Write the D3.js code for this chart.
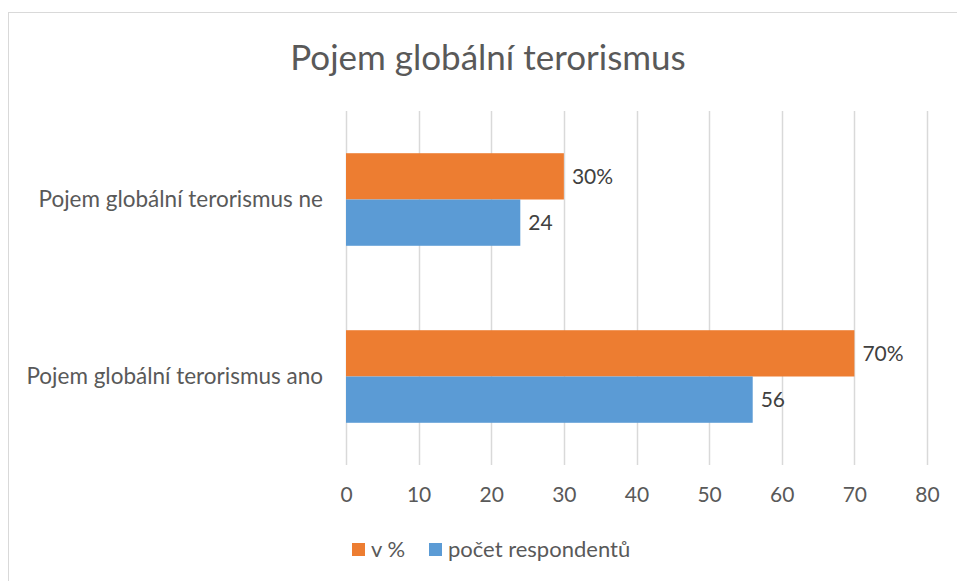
<!DOCTYPE html>
<html>
<head>
<meta charset="utf-8">
<script src="https://cdn.jsdelivr.net/npm/d3@7"></script>
<style>
  body { margin: 0; background: #fff; }
  svg text { font-family: Lato, "Open Sans", sans-serif; }
</style>
</head>
<body>
<div class="chart"></div>
<script>
const w = 957;
const h = 581;

const categories = ["Pojem globální terorismus ne", "Pojem globální terorismus ano"];
const percentValues = [30, 70];
const countValues = [24, 56];
const seriesNames = ["v %", "počet respondentů"];
const seriesColors = ["#ED7D31", "#5B9BD5"];
const xTicks = [0, 10, 20, 30, 40, 50, 60, 70, 80];

const plot = { left: 346, right: 927, top: 111, bottom: 465 };

const svg = d3.select(".chart").append("svg").attr("width", w).attr("height", h);

// chart frame
svg.append("rect")
  .attr("x", 8.5).attr("y", 12.5)
  .attr("width", 960).attr("height", 600)
  .attr("fill", "#fff").attr("stroke", "#d9d9d9");

svg.append("text")
  .attr("x", 488).attr("y", 70)
  .attr("text-anchor", "middle")
  .attr("font-size", 35)
  .attr("fill", "#595959")
  .text("Pojem globální terorismus");

const xScale = d3.scaleLinear().domain([0, 80]).range([plot.left, plot.right]);
const yScale = d3.scaleBand().domain(categories).range([plot.top, plot.bottom])
  .paddingInner(0.477).paddingOuter(0.2385);
const sub = d3.scaleBand().domain([0, 1]).range([0, yScale.bandwidth()]);

// gridlines
svg.append("g").selectAll("line")
  .data(xTicks)
  .enter().append("line")
  .attr("x1", d => Math.round(xScale(d)) + 0.5)
  .attr("x2", d => Math.round(xScale(d)) + 0.5)
  .attr("y1", plot.top).attr("y2", plot.bottom)
  .attr("stroke", "#d9d9d9").attr("stroke-width", 1.5);

const xAxis = d3.axisBottom(xScale).tickValues(xTicks).tickSize(0).tickPadding(0);
const gx = svg.append("g")
  .attr("transform", "translate(0," + (plot.bottom + 22) + ")")
  .call(xAxis);
gx.select(".domain").remove();
gx.selectAll("text").attr("font-size", 21).attr("fill", "#595959")
  .attr("font-family", "Lato, 'Open Sans', sans-serif");

const yAxis = d3.axisLeft(yScale).tickSize(0).tickPadding(0);
const gy = svg.append("g")
  .attr("transform", "translate(" + (plot.left - 23) + ",0)")
  .call(yAxis);
gy.select(".domain").remove();
gy.selectAll("text").attr("font-size", 22.5).attr("fill", "#595959")
  .attr("font-family", "Lato, 'Open Sans', sans-serif");

const rows = [];
categories.forEach((c, i) => {
  rows.push({ cat: c, s: 0, v: percentValues[i], label: percentValues[i] + "%" });
  rows.push({ cat: c, s: 1, v: countValues[i], label: String(countValues[i]) });
});

svg.append("g").selectAll("rect")
  .data(rows)
  .enter().append("rect")
  .attr("x", xScale(0))
  .attr("y", d => yScale(d.cat) + sub(d.s))
  .attr("width", d => xScale(d.v) - xScale(0))
  .attr("height", sub.bandwidth())
  .attr("fill", d => seriesColors[d.s]);

svg.append("g").selectAll("text")
  .data(rows)
  .enter().append("text")
  .attr("x", d => xScale(d.v) + 8)
  .attr("y", d => yScale(d.cat) + sub(d.s) + sub.bandwidth() / 2)
  .attr("dy", "0.35em")
  .attr("font-size", 21)
  .attr("fill", "#404040")
  .text(d => d.label);

// legend
const legend = svg.append("g");
const legendX = [352, 429];
seriesNames.forEach((name, i) => {
  legend.append("rect")
    .attr("x", legendX[i]).attr("y", 543)
    .attr("width", 13).attr("height", 13)
    .attr("fill", seriesColors[i]);
  legend.append("text")
    .attr("x", legendX[i] + 19).attr("y", 557)
    .attr("font-size", 22)
    .attr("fill", "#595959")
    .text(name);
});
</script>
</body>
</html>
